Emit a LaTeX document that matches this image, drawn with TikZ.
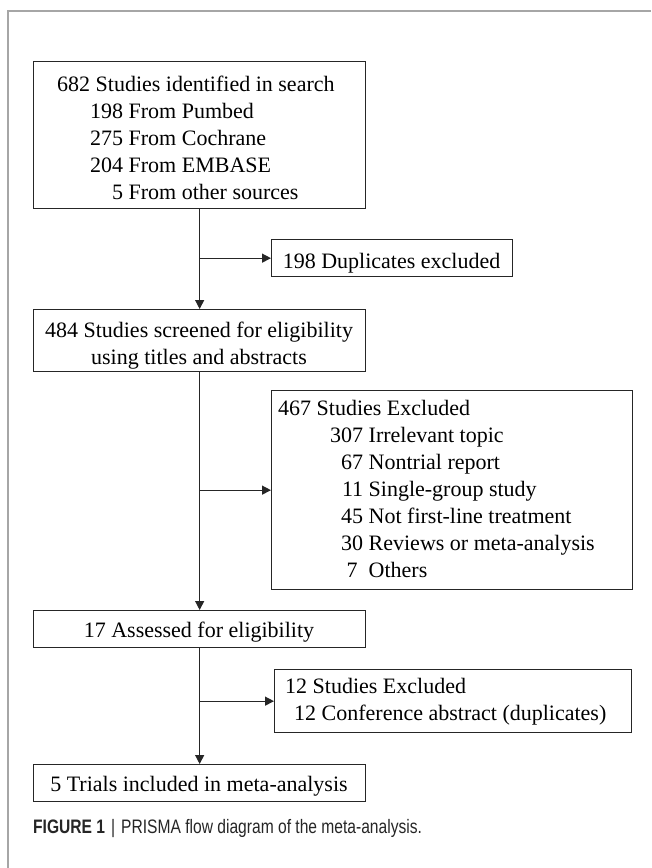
\documentclass[tikz,border=0pt]{standalone}
\usepackage{fontspec}
\setmainfont{Liberation Serif}
\newfontfamily\capsans[FakeStretch=0.8]{Liberation Sans}
\usetikzlibrary{arrows.meta}
\begin{document}
\begin{tikzpicture}[x=1pt,y=-1pt,
  box/.style={draw=black!85, line width=1.3pt, inner sep=0pt, anchor=north west},
  txt/.style={inner sep=0pt, font=\fontsize{22}{27}\selectfont},
  arr/.style={draw=black!85, line width=1.3pt, -{Triangle[length=9pt,width=9pt]}},
  frame/.style={draw=black!35, line width=1.5pt}
]
\useasboundingbox (0,0) rectangle (651,868);
% frame
\draw[frame] (8,868) -- (8,11) -- (651,11);

% boxes
\node[box, minimum width=332pt, minimum height=147pt] (b1) at (33,61) {};
\node[box, minimum width=241pt, minimum height=37pt]  (b2) at (271,239) {};
\node[box, minimum width=332pt, minimum height=62pt]  (b3) at (33,309) {};
\node[box, minimum width=361pt, minimum height=199pt] (b4) at (271,390) {};
\node[box, minimum width=332pt, minimum height=37pt]  (b5) at (33,610) {};
\node[box, minimum width=357pt, minimum height=63pt]  (b6) at (274,669) {};
\node[box, minimum width=332pt, minimum height=37pt]  (b7) at (33,764) {};

% texts
\node[txt, anchor=base west] (t1) at (57,91) {\begin{tabular}[t]{@{}l@{}}
682 Studies identified in search\\
\hspace*{33pt}198 From Pumbed\\
\hspace*{33pt}275 From Cochrane\\
\hspace*{33pt}204 From EMBASE\\
\hspace*{33pt}\phantom{19}5 From other sources
\end{tabular}};
\node[txt, anchor=base] (t2) at (391.5,268) {198 Duplicates excluded};
\node[txt, anchor=base] (t3) at (199,337) {\begin{tabular}[t]{@{}c@{}}
484 Studies screened for eligibility\\
using titles and abstracts
\end{tabular}};
\node[txt, anchor=base west] (t4) at (278,415) {\begin{tabular}[t]{@{}l@{}}
467 Studies Excluded\\
\makebox[85pt][r]{307}\ Irrelevant topic\\
\makebox[85pt][r]{67}\ Nontrial report\\
\makebox[85pt][r]{11}\ Single-group study\\
\makebox[85pt][r]{45}\ Not first-line treatment\\
\makebox[85pt][r]{30}\ Reviews or meta-analysis\\
\makebox[85pt][r]{7\ }\ Others
\end{tabular}};
\node[txt, anchor=base] (t5) at (199,637) {17 Assessed for eligibility};
\node[txt, anchor=base west] (t6) at (285,693) {\begin{tabular}[t]{@{}l@{}}
12 Studies Excluded\\
\hspace*{9pt}12 Conference abstract (duplicates)
\end{tabular}};
\node[txt, anchor=base] (t7) at (199,791) {5 Trials included in meta-analysis};

% connectors
\draw[arr] (b1.south) -- (b3.north);
\draw[arr] (b1.south |- b2.west) -- (b2.west);
\draw[arr] (b3.south) -- (b5.north);
\draw[arr] (b3.south |- b4.west) -- (b4.west);
\draw[arr] (b5.south) -- (b7.north);
\draw[arr] (b5.south |- b6.west) -- (b6.west);

% caption
\node[inner sep=0pt, anchor=base west, text=black!85] (cap) at (33,833)
  {\capsans\fontsize{19.5}{22}\selectfont\textbf{FIGURE 1}\hspace{6pt}|\hspace{6pt}PRISMA flow diagram of the meta-analysis.};
\end{tikzpicture}
\end{document}
